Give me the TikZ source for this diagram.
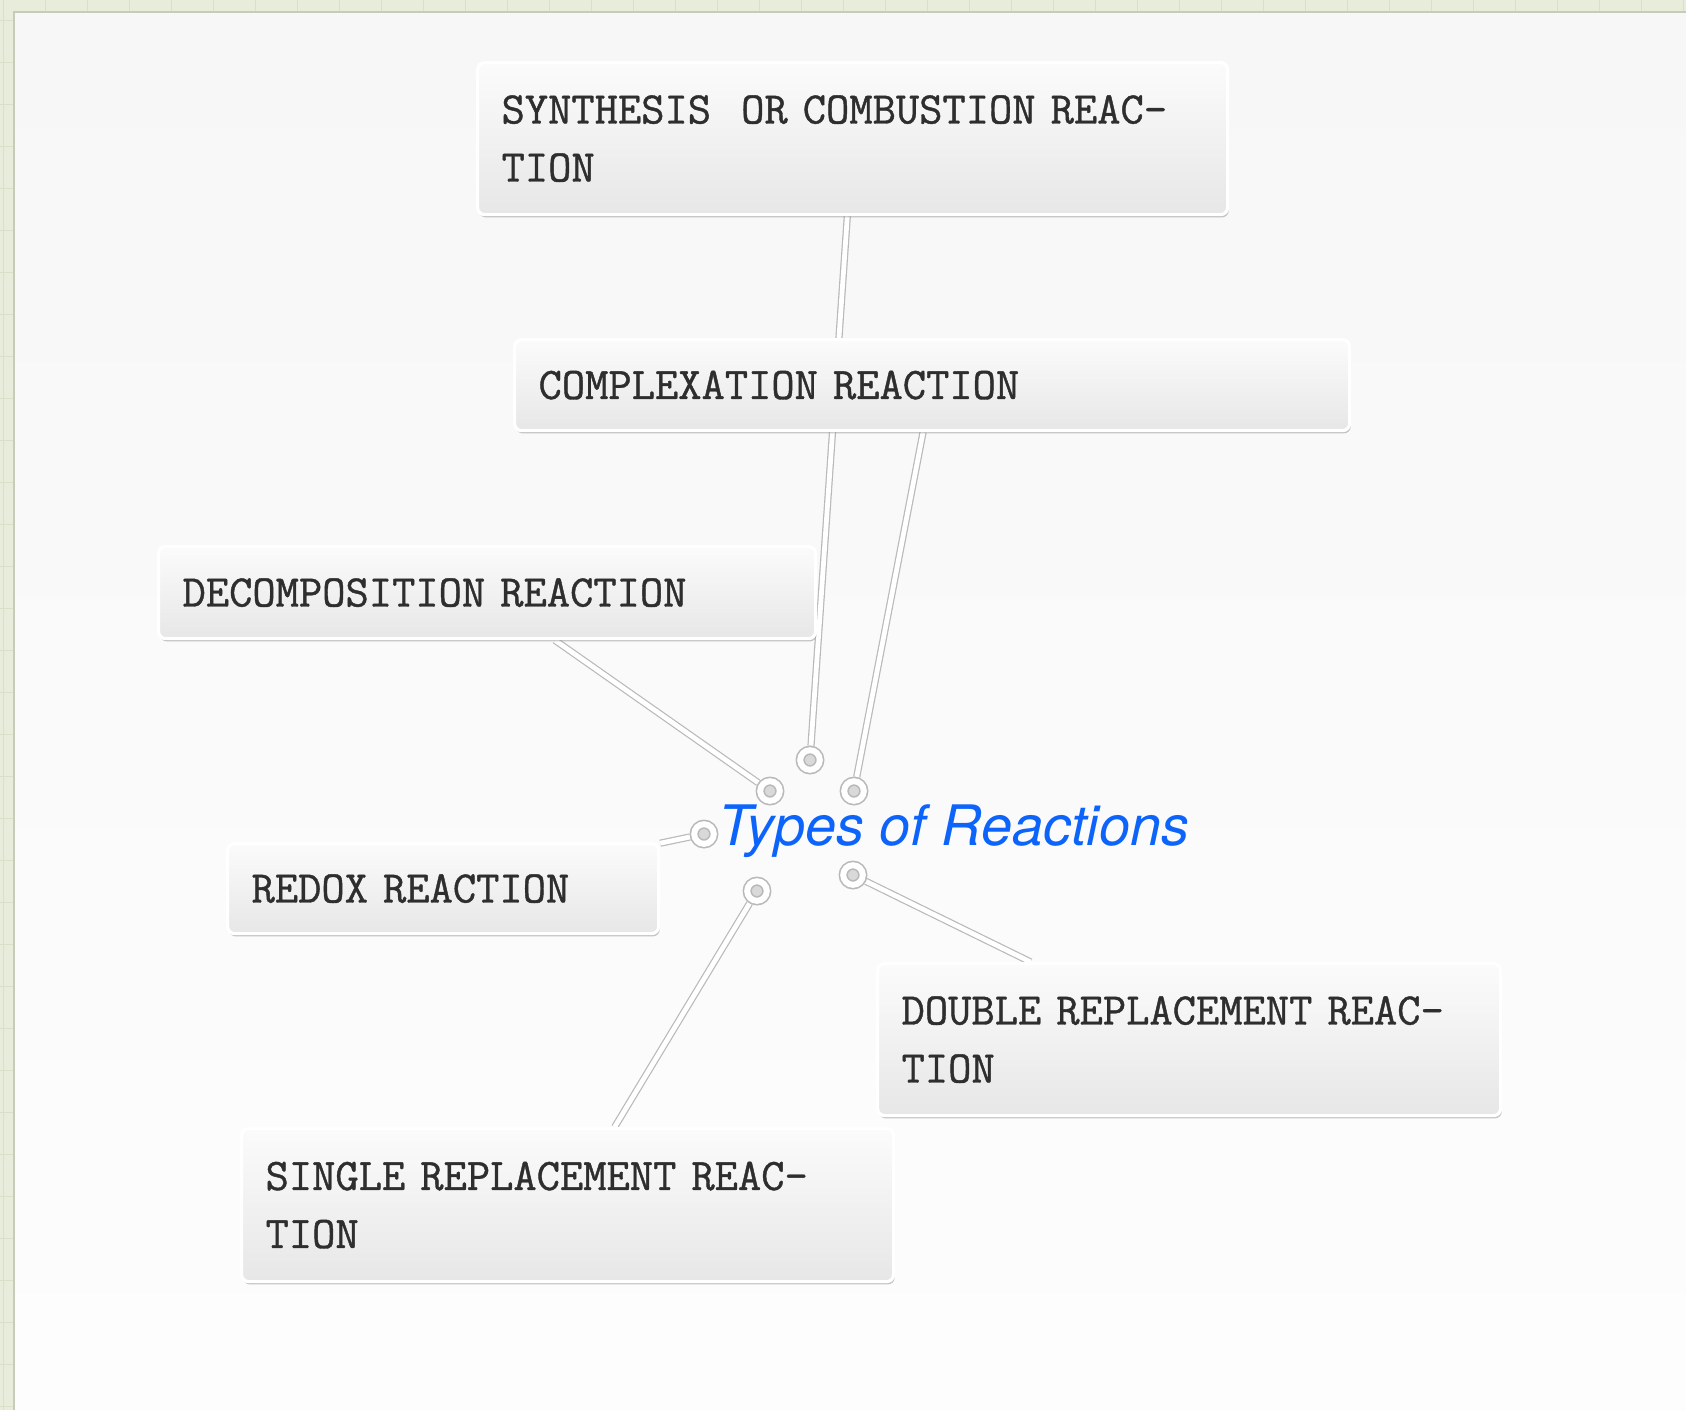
\documentclass[tikz,border=0pt]{standalone}
\usepackage{fontspec}
\newfontfamily\heros{TeX Gyre Heros}
\newfontfamily\tw{Latin Modern Mono}[FakeBold=0.9, WordSpace=0.55]
\usetikzlibrary{shadows}
\pgfdeclarelayer{back}
\pgfdeclarelayer{bg}
\pgfsetlayers{back,bg,main}
\definecolor{titleblue}{RGB}{12,100,250}
\definecolor{gridgreen}{HTML}{E8EDDB}
\definecolor{gridline}{HTML}{D9DFC9}
\definecolor{panelborder}{HTML}{C6CBBC}
\definecolor{boxtext}{HTML}{2E2E2E}
\definecolor{paneltop}{HTML}{F7F7F7}
\definecolor{panelbot}{HTML}{FDFDFD}
\definecolor{edgegrey}{HTML}{B9B9B9}
\tikzset{
  rbox/.style={rectangle, rounded corners=3.5pt, draw=white, line width=1.6pt,
    top color=gray!3, bottom color=gray!19,
    drop shadow={shadow xshift=0.6pt, shadow yshift=-1.4pt, opacity=0.45},
    anchor=north west, font=\tw\fontsize{22.6}{29}\selectfont, text=boxtext,
    align=left, inner xsep=12pt, inner ysep=0pt},
  ring/.style={circle, draw=edgegrey, line width=0.8pt, double=white, double distance=3pt,
    fill=gray!30, minimum size=9.8pt, inner sep=0pt, outer sep=2.3pt},
  conn/.style={draw=edgegrey, line width=0.6pt, double=white, double distance=2.4pt}
}
\begin{document}
\begin{tikzpicture}[x=0.5pt,y=-0.5pt]
\useasboundingbox (0,0) rectangle (1686,1410);
\begin{pgfonlayer}{back}
  \fill[gridgreen] (0,0) rectangle (1686,1410);
  \foreach \i in {0,...,40} {
    \draw[gridline, line width=0.5pt] (\i*42+3,0) -- (\i*42+3,1410);
    \draw[gridline, line width=0.5pt] (0,\i*42+20) -- (1686,\i*42+20);
  }
  \fill[top color=paneltop, bottom color=panelbot] (14,12) rectangle (1686,1410);
  \draw[panelborder, line width=1.2pt] (14,1410) -- (14,12) -- (1686,12);
\end{pgfonlayer}

% boxes
\node[rbox, text width=351pt, minimum height=76pt] (syn) at (476,61) {SYNTHESIS\ \ OR COMBUSTION REAC-\\TION};
\node[rbox, text width=393.5pt, minimum height=45.5pt] (comp) at (513,338) {COMPLEXATION REACTION};
\node[rbox, text width=304.5pt, minimum height=46pt] (decomp) at (157,545) {DECOMPOSITION REACTION};
\node[rbox, text width=191.5pt, minimum height=45pt] (redox) at (226,842) {REDOX REACTION};
\node[rbox, text width=287.5pt, minimum height=76pt] (double) at (876,962) {DOUBLE REPLACEMENT REAC-\\TION};
\node[rbox, text width=302pt, minimum height=76.5pt] (single) at (240,1127) {SINGLE REPLACEMENT REAC-\\TION};

% central topic
\node[anchor=base west, inner sep=0pt, text=titleblue,
      font=\heros\itshape\fontsize{27.9}{32}\selectfont] (title) at (718,845) {Types of Reactions};

% connection rings
\node[ring] (r1) at (810,760) {};
\node[ring] (r2) at (854,791) {};
\node[ring] (r3) at (770,791) {};
\node[ring] (r4) at (704,834) {};
\node[ring] (r5) at (757,891) {};
\node[ring] (r6) at (853,875) {};

\begin{pgfonlayer}{bg}
  \draw[conn] (r1) -- (syn);
  \draw[conn] (r2) -- (comp);
  \draw[conn] (r3) -- (decomp);
  \draw[conn] (r4) -- (redox);
  \draw[conn] (r5) -- (single);
  \draw[conn] (r6) -- (double);
\end{pgfonlayer}
\end{tikzpicture}
\end{document}
